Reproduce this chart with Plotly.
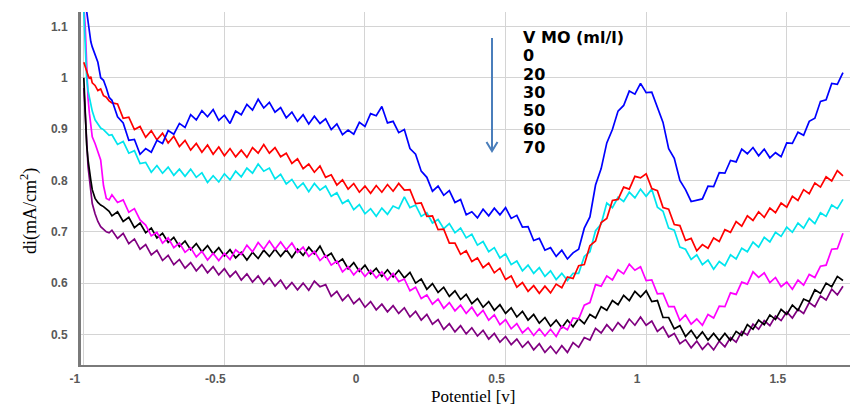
import plotly.graph_objects as go

# Potential grid (V): fine steps over the initial drop, then 0.02 V steps
potentiel = [
    -1.0, -0.995, -0.99, -0.985, -0.98, -0.975, -0.97, -0.96, -0.95, -0.94, -0.93, -0.92, -0.91,
    -0.90, -0.88, -0.86, -0.84, -0.82, -0.80, -0.78, -0.76, -0.74, -0.72,
    -0.70, -0.68, -0.66, -0.64, -0.62, -0.60, -0.58, -0.56, -0.54, -0.52,
    -0.50, -0.48, -0.46, -0.44, -0.42, -0.40, -0.38, -0.36, -0.34, -0.32,
    -0.30, -0.28, -0.26, -0.24, -0.22, -0.20, -0.18, -0.16, -0.14, -0.12,
    -0.10, -0.08, -0.06, -0.04, -0.02, 0.00, 0.02, 0.04, 0.06, 0.08,
    0.10, 0.12, 0.14, 0.16, 0.18, 0.20, 0.22, 0.24, 0.26, 0.28,
    0.30, 0.32, 0.34, 0.36, 0.38, 0.40, 0.42, 0.44, 0.46, 0.48,
    0.50, 0.52, 0.54, 0.56, 0.58, 0.60, 0.62, 0.64, 0.66, 0.68,
    0.70, 0.72, 0.74, 0.76, 0.78, 0.80, 0.82, 0.84, 0.86, 0.88,
    0.90, 0.92, 0.94, 0.96, 0.98, 1.00, 1.02, 1.04, 1.06, 1.08,
    1.10, 1.12, 1.14, 1.16, 1.18, 1.20, 1.22, 1.24, 1.26, 1.28,
    1.30, 1.32, 1.34, 1.36, 1.38, 1.40, 1.42, 1.44, 1.46, 1.48,
    1.50, 1.52, 1.54, 1.56, 1.58, 1.60, 1.62, 1.64, 1.66, 1.68,
    1.70,
]

# di (mA/cm2) for each MO volume (ml/l)
di_0 = [
    1.17, 1.15, 1.13, 1.10, 1.085, 1.07, 1.06, 1.045, 1.03, 1.00, 0.995, 0.98, 0.962,
    0.956, 0.924, 0.912, 0.878, 0.880, 0.851, 0.862, 0.855, 0.878, 0.872,
    0.897, 0.890, 0.911, 0.903, 0.928, 0.918, 0.936, 0.924, 0.938, 0.917,
    0.927, 0.911, 0.935, 0.928, 0.948, 0.937, 0.958, 0.941, 0.952, 0.933,
    0.942, 0.922, 0.933, 0.915, 0.928, 0.910, 0.925, 0.911, 0.920, 0.899,
    0.910, 0.889, 0.898, 0.890, 0.913, 0.905, 0.930, 0.926, 0.944, 0.912,
    0.915, 0.893, 0.899, 0.862, 0.851, 0.818, 0.806, 0.779, 0.789, 0.771,
    0.780, 0.757, 0.763, 0.733, 0.739, 0.727, 0.744, 0.731, 0.746, 0.733,
    0.747, 0.726, 0.732, 0.709, 0.710, 0.683, 0.687, 0.664, 0.669, 0.652,
    0.664, 0.647, 0.659, 0.666, 0.707, 0.729, 0.791, 0.823, 0.873, 0.899,
    0.935, 0.946, 0.974, 0.968, 0.989, 0.971, 0.972, 0.944, 0.913, 0.862,
    0.843, 0.800, 0.782, 0.759, 0.762, 0.764, 0.789, 0.788, 0.815, 0.814,
    0.839, 0.836, 0.861, 0.852, 0.864, 0.848, 0.861, 0.844, 0.854, 0.846,
    0.873, 0.872, 0.894, 0.888, 0.915, 0.921, 0.954, 0.957, 0.989, 0.987,
    1.010,
]
di_20 = [
    1.03, 1.02, 1.01, 1.005, 0.998, 1.002, 0.99, 0.985, 0.975, 0.978, 0.965, 0.962, 0.955,
    0.951, 0.949, 0.921, 0.923, 0.899, 0.905, 0.884, 0.897, 0.879, 0.892,
    0.873, 0.886, 0.866, 0.878, 0.859, 0.872, 0.855, 0.869, 0.851, 0.865,
    0.848, 0.862, 0.846, 0.859, 0.845, 0.864, 0.853, 0.870, 0.853, 0.864,
    0.846, 0.853, 0.833, 0.842, 0.823, 0.832, 0.816, 0.828, 0.806, 0.811,
    0.791, 0.801, 0.783, 0.794, 0.777, 0.789, 0.775, 0.790, 0.777, 0.792,
    0.779, 0.794, 0.781, 0.782, 0.755, 0.756, 0.730, 0.731, 0.704, 0.705,
    0.678, 0.678, 0.656, 0.663, 0.642, 0.649, 0.630, 0.639, 0.620, 0.629,
    0.607, 0.614, 0.592, 0.601, 0.584, 0.595, 0.580, 0.594, 0.581, 0.598,
    0.591, 0.612, 0.609, 0.634, 0.636, 0.673, 0.682, 0.718, 0.726, 0.761,
    0.763, 0.787, 0.783, 0.808, 0.805, 0.813, 0.784, 0.780, 0.747, 0.744,
    0.714, 0.712, 0.683, 0.687, 0.663, 0.675, 0.668, 0.688, 0.681, 0.704,
    0.699, 0.720, 0.711, 0.731, 0.722, 0.739, 0.728, 0.746, 0.737, 0.756,
    0.748, 0.769, 0.761, 0.782, 0.774, 0.795, 0.787, 0.807, 0.799, 0.819,
    0.809,
]
di_30 = [
    1.13, 1.06, 1.0, 0.975, 0.962, 0.955, 0.935, 0.918, 0.91, 0.902, 0.899, 0.893, 0.888,
    0.889, 0.870, 0.876, 0.853, 0.858, 0.833, 0.835, 0.816, 0.829, 0.814,
    0.826, 0.810, 0.822, 0.808, 0.822, 0.806, 0.815, 0.796, 0.809, 0.797,
    0.813, 0.801, 0.818, 0.807, 0.824, 0.814, 0.832, 0.818, 0.824, 0.803,
    0.812, 0.793, 0.802, 0.785, 0.795, 0.778, 0.794, 0.781, 0.789, 0.769,
    0.776, 0.755, 0.762, 0.743, 0.753, 0.735, 0.745, 0.730, 0.746, 0.734,
    0.750, 0.745, 0.768, 0.747, 0.752, 0.730, 0.737, 0.717, 0.724, 0.706,
    0.716, 0.698, 0.707, 0.688, 0.695, 0.674, 0.681, 0.661, 0.669, 0.649,
    0.657, 0.636, 0.643, 0.624, 0.635, 0.619, 0.630, 0.613, 0.624, 0.607,
    0.619, 0.605, 0.619, 0.619, 0.652, 0.661, 0.702, 0.715, 0.756, 0.747,
    0.767, 0.759, 0.777, 0.766, 0.783, 0.769, 0.783, 0.748, 0.740, 0.707,
    0.703, 0.670, 0.666, 0.646, 0.655, 0.636, 0.645, 0.627, 0.642, 0.634,
    0.655, 0.647, 0.668, 0.661, 0.680, 0.670, 0.689, 0.680, 0.699, 0.691,
    0.709, 0.699, 0.717, 0.707, 0.726, 0.716, 0.737, 0.730, 0.752, 0.745,
    0.763,
]
di_50 = [
    1.14, 1.10, 1.03, 0.96, 0.93, 0.905, 0.885, 0.872, 0.855, 0.84, 0.79, 0.765, 0.762,
    0.772, 0.757, 0.762, 0.738, 0.745, 0.723, 0.713, 0.692, 0.699, 0.678,
    0.688, 0.669, 0.678, 0.660, 0.669, 0.651, 0.662, 0.645, 0.658, 0.644,
    0.658, 0.646, 0.665, 0.656, 0.674, 0.661, 0.679, 0.666, 0.682, 0.666,
    0.680, 0.665, 0.678, 0.660, 0.670, 0.652, 0.662, 0.644, 0.654, 0.635,
    0.643, 0.622, 0.632, 0.616, 0.628, 0.613, 0.625, 0.610, 0.622, 0.606,
    0.619, 0.603, 0.608, 0.585, 0.592, 0.570, 0.577, 0.559, 0.569, 0.551,
    0.562, 0.546, 0.557, 0.541, 0.553, 0.536, 0.547, 0.528, 0.538, 0.519,
    0.529, 0.511, 0.521, 0.503, 0.513, 0.498, 0.511, 0.497, 0.510, 0.496,
    0.516, 0.509, 0.532, 0.530, 0.557, 0.562, 0.597, 0.594, 0.614, 0.606,
    0.626, 0.618, 0.637, 0.625, 0.632, 0.605, 0.606, 0.579, 0.580, 0.554,
    0.554, 0.527, 0.538, 0.520, 0.530, 0.518, 0.539, 0.532, 0.555, 0.554,
    0.581, 0.578, 0.602, 0.598, 0.622, 0.611, 0.620, 0.601, 0.611, 0.593,
    0.602, 0.588, 0.606, 0.596, 0.617, 0.611, 0.633, 0.635, 0.666, 0.667,
    0.697,
]
di_60 = [
    1.0, 0.93, 0.87, 0.84, 0.815, 0.80, 0.782, 0.765, 0.757, 0.752, 0.749, 0.745, 0.74,
    0.731, 0.739, 0.720, 0.728, 0.708, 0.717, 0.698, 0.707, 0.688, 0.697,
    0.679, 0.689, 0.671, 0.682, 0.665, 0.677, 0.661, 0.673, 0.657, 0.669,
    0.653, 0.665, 0.649, 0.660, 0.645, 0.660, 0.648, 0.664, 0.652, 0.666,
    0.652, 0.665, 0.650, 0.666, 0.654, 0.670, 0.657, 0.672, 0.651, 0.658,
    0.639, 0.647, 0.628, 0.640, 0.623, 0.635, 0.618, 0.629, 0.613, 0.626,
    0.612, 0.625, 0.610, 0.621, 0.600, 0.608, 0.588, 0.599, 0.582, 0.592,
    0.574, 0.585, 0.568, 0.578, 0.560, 0.570, 0.553, 0.564, 0.547, 0.558,
    0.541, 0.552, 0.534, 0.545, 0.528, 0.539, 0.522, 0.533, 0.516, 0.528,
    0.513, 0.528, 0.515, 0.531, 0.521, 0.539, 0.532, 0.554, 0.547, 0.566,
    0.558, 0.576, 0.566, 0.584, 0.573, 0.585, 0.564, 0.566, 0.533, 0.533,
    0.511, 0.517, 0.496, 0.508, 0.492, 0.505, 0.489, 0.502, 0.488, 0.502,
    0.488, 0.506, 0.498, 0.519, 0.510, 0.528, 0.519, 0.538, 0.529, 0.549,
    0.539, 0.557, 0.547, 0.569, 0.564, 0.587, 0.580, 0.600, 0.593, 0.613,
    0.605,
]
di_70 = [
    0.98, 0.94, 0.88, 0.827, 0.80, 0.776, 0.755, 0.735, 0.72, 0.71, 0.705, 0.70, 0.698,
    0.703, 0.687, 0.697, 0.677, 0.686, 0.666, 0.675, 0.655, 0.664, 0.644,
    0.654, 0.636, 0.646, 0.629, 0.640, 0.624, 0.636, 0.620, 0.632, 0.616,
    0.628, 0.612, 0.623, 0.606, 0.618, 0.602, 0.614, 0.598, 0.610, 0.594,
    0.606, 0.589, 0.601, 0.587, 0.600, 0.586, 0.604, 0.593, 0.597, 0.574,
    0.584, 0.566, 0.577, 0.560, 0.570, 0.553, 0.564, 0.548, 0.559, 0.544,
    0.556, 0.541, 0.552, 0.534, 0.545, 0.528, 0.539, 0.520, 0.529, 0.510,
    0.521, 0.505, 0.517, 0.501, 0.513, 0.497, 0.508, 0.491, 0.502, 0.485,
    0.496, 0.480, 0.491, 0.475, 0.486, 0.470, 0.482, 0.465, 0.477, 0.463,
    0.478, 0.465, 0.484, 0.475, 0.494, 0.489, 0.512, 0.503, 0.519, 0.507,
    0.523, 0.512, 0.530, 0.518, 0.534, 0.518, 0.526, 0.506, 0.515, 0.495,
    0.502, 0.482, 0.490, 0.474, 0.487, 0.471, 0.483, 0.470, 0.487, 0.476,
    0.494, 0.485, 0.506, 0.499, 0.520, 0.510, 0.527, 0.517, 0.536, 0.527,
    0.544, 0.532, 0.549, 0.541, 0.562, 0.554, 0.575, 0.567, 0.588, 0.577,
    0.594,
]

volumes = ["0", "20", "30", "50", "60", "70"]
series = [di_0, di_20, di_30, di_50, di_60, di_70]
colors = ["#0000ff", "#ff0000", "#00e5ee", "#ff00ff", "#000000", "#800080"]

x_ticks = [-1, -0.5, 0, 0.5, 1, 1.5]
x_ticktext = ["-1", "-0.5", "0", "0.5", "1", "1.5"]
y_ticks = [0.5, 0.6, 0.7, 0.8, 0.9, 1.0, 1.1]
y_ticktext = ["0.5", "0.6", "0.7", "0.8", "0.9", "1", "1.1"]

W, H = 850, 407
L, R, T, B = 81, 0, 12, 42


def px(xp):
    return (xp - L) / (W - L - R)


def py(yp):
    return (H - B - yp) / (H - T - B)


fig = go.Figure()
# draw from the lowest curve up so the upper curves sit on top
for vol, y, c in reversed(list(zip(volumes, series, colors))):
    fig.add_trace(go.Scatter(
        x=potentiel, y=y, mode="lines", name=vol,
        line=dict(color=c, width=1.7), showlegend=False,
    ))

tick_font = dict(family="Liberation Sans", size=12, color="#595959", weight="bold")
fig.update_layout(
    width=W, height=H,
    margin=dict(l=L, r=R, t=T, b=B),
    paper_bgcolor="white", plot_bgcolor="white",
    xaxis=dict(
        range=[-1.01, 1.725], tickvals=x_ticks, ticktext=x_ticktext,
        showgrid=True, gridcolor="#d4d4d4", gridwidth=1.2, zeroline=False,
        showline=True, linecolor="#7a7a7a", linewidth=2,
        ticks="", tickfont=tick_font, ticklabelstandoff=2, ticklabelshift=-9,
    ),
    yaxis=dict(
        range=[0.4405, 1.128], tickvals=y_ticks, ticktext=y_ticktext,
        showgrid=True, gridcolor="#d4d4d4", gridwidth=1.2, zeroline=False,
        showline=True, linecolor="#7a7a7a", linewidth=3,
        ticks="", tickfont=tick_font, ticklabelstandoff=8,
    ),
)

# axis titles
fig.add_annotation(
    text="Potentiel [v]", xref="paper", yref="paper", x=px(473), y=py(396),
    xanchor="center", yanchor="middle", showarrow=False,
    font=dict(family="Liberation Serif", size=17, color="black"),
)
fig.add_annotation(
    text="di(mA/cm<sup>2</sup>)", xref="paper", yref="paper", x=px(29), y=py(211),
    xanchor="center", yanchor="middle", showarrow=False, textangle=-90,
    font=dict(family="Liberation Serif", size=18, color="black"),
)

# legend block: heading and the MO volumes, top to bottom
legend_font = dict(family="DejaVu Sans", size=16, color="black", weight="bold")
legend_rows = ["V MO (ml/l)"] + volumes
legend_y = [38, 56, 74, 92, 111, 129, 147]
for label, yp in zip(legend_rows, legend_y):
    fig.add_annotation(
        text=label, xref="paper", yref="paper", x=px(521), y=py(yp),
        xanchor="left", yanchor="middle", showarrow=False, font=legend_font,
    )

# downward arrow beside the volumes
arrow_color = "#4a7ebb"
fig.add_shape(type="line", xref="paper", yref="paper",
              x0=px(492), y0=py(38), x1=px(492), y1=py(150),
              line=dict(color=arrow_color, width=2))
fig.add_shape(type="path", xref="paper", yref="paper",
              path=f"M {px(486.5)} {py(142)} L {px(492)} {py(151)} L {px(497.5)} {py(142)}",
              line=dict(color=arrow_color, width=2))

fig.write_html("out.html")
